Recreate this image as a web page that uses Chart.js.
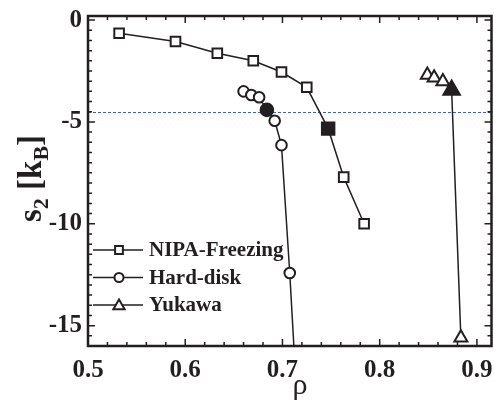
<!DOCTYPE html>
<html>
<head>
<meta charset="utf-8">
<script src="https://cdn.jsdelivr.net/npm/chart.js@4.4.1/dist/chart.umd.min.js"></script>
<style>
  html, body { margin: 0; padding: 0; background: #fff; overflow: hidden; }
  /* canvas is a little wider than the window: Chart.js keeps a point-size margin on the right */
  #wrap { width: 494px; height: 404px; overflow: hidden; }
</style>
</head>
<body>
<div id="wrap"><canvas id="chart" width="501" height="404"></canvas></div>
<script>
// data
const seriesNames = ['NIPA-Freezing', 'Hard-disk', 'Yukawa'];
const nipaRho = [0.532, 0.590, 0.633, 0.670, 0.699, 0.725, 0.747, 0.763, 0.784];
const nipaS2 = [-0.65, -1.05, -1.63, -2.0, -2.55, -3.3, -5.33, -7.71, -10.0];
const diskRho = [0.660, 0.668, 0.676, 0.684, 0.692, 0.699, 0.7075, 0.7135];
const diskS2 = [-3.5, -3.68, -3.79, -4.41, -4.94, -6.14, -12.42, -17.5];
const yukawaRho = [0.849, 0.856, 0.865, 0.874, 0.8835];
const yukawaS2 = [-2.7, -2.83, -3.02, -3.43, -15.6];
const xTicks = [0.5, 0.6, 0.7, 0.8, 0.9];
const yTicks = [0, -5, -10, -15];
const refLevel = -4.5;

const INK = '#231f20';
const SERIF = "'Liberation Serif', 'Times New Roman', serif";

const toPoints = (xs, ys) => xs.map((x, i) => ({ x: x, y: ys[i] }));

// open markers, with one filled marker per series
const makeSet = (label, xs, ys, style, r, rFilled, filledIndex, extra) => Object.assign({
    label: label,
    data: toPoints(xs, ys),
    showLine: true,
    borderColor: INK,
    borderWidth: 1.5,
    pointStyle: style,
    pointBorderWidth: 2,
    pointBorderColor: INK,
    pointRadius: ctx => ctx.dataIndex === filledIndex ? rFilled : r,
    pointBackgroundColor: ctx => ctx.dataIndex === filledIndex ? INK : '#fff',
    tension: 0
}, extra || {});

function drawMarker(ctx, style, x, y, r) {
    ctx.beginPath();
    if (style === 'rect') {
        const s = r * Math.SQRT1_2;
        ctx.rect(x - s, y - s, 2 * s, 2 * s);
    } else if (style === 'circle') {
        ctx.arc(x, y, r, 0, Math.PI * 2);
    } else {
        ctx.moveTo(x, y - r);
        ctx.lineTo(x + r * Math.sin(Math.PI / 3), y + r * 0.5);
        ctx.lineTo(x - r * Math.sin(Math.PI / 3), y + r * 0.5);
        ctx.closePath();
    }
    ctx.fillStyle = '#fff';
    ctx.fill();
    ctx.lineWidth = 2;
    ctx.strokeStyle = INK;
    ctx.stroke();
}

const framePlugin = {
    id: 'frame',
    beforeDatasetsDraw(chart) {
        const { ctx, chartArea: a, scales: { y } } = chart;
        // dashed reference level
        const py = Math.round(y.getPixelForValue(refLevel)) + 0.5;
        ctx.save();
        ctx.strokeStyle = '#3a5fd0';
        ctx.lineWidth = 1;
        ctx.setLineDash([3, 2]);
        ctx.beginPath();
        ctx.moveTo(a.left, py);
        ctx.lineTo(a.right, py);
        ctx.stroke();
        ctx.restore();
    },
    afterDraw(chart) {
        const { ctx, chartArea: a, scales: { x, y } } = chart;
        ctx.save();
        ctx.strokeStyle = INK;
        ctx.lineWidth = 1.5;
        // minor + major ticks, pointing inward on all four sides
        for (let v = 0.5; v <= x.max + 1e-9; v += 0.02) {
            const px = x.getPixelForValue(v);
            const major = Math.abs(v * 10 - Math.round(v * 10)) < 1e-6;
            const len = major ? 7 : 4;
            ctx.beginPath();
            ctx.moveTo(px, a.bottom); ctx.lineTo(px, a.bottom - len);
            ctx.moveTo(px, a.top); ctx.lineTo(px, a.top + len);
            ctx.stroke();
        }
        for (let v = 0; v >= y.min; v -= 0.5) {
            const py = y.getPixelForValue(v);
            const major = Math.abs(v % 5) < 1e-6;
            const len = major ? 7 : 4;
            ctx.beginPath();
            ctx.moveTo(a.left, py); ctx.lineTo(a.left + len, py);
            ctx.moveTo(a.right, py); ctx.lineTo(a.right - len, py);
            ctx.stroke();
        }
        ctx.lineWidth = 2.5;
        ctx.strokeRect(a.left, a.top, a.right - a.left, a.bottom - a.top);

        // legend: line - marker - line
        const styles = ['rect', 'circle', 'triangle'];
        const radii = [5.5, 4.5, 6.5];
        ctx.font = 'bold 21px ' + SERIF;
        ctx.textBaseline = 'middle';
        ctx.fillStyle = INK;
        seriesNames.forEach((name, i) => {
            const ly = 250 + i * 27.5;
            ctx.lineWidth = 1.5;
            ctx.beginPath();
            ctx.moveTo(93, ly); ctx.lineTo(143, ly);
            ctx.stroke();
            drawMarker(ctx, styles[i], 119, ly + (i === 2 ? 1 : 0), radii[i]);
            ctx.fillStyle = INK;
            ctx.fillText(name, 149, ly + 1);
        });

        // y title: s_2 [k_B], rotated
        ctx.translate(41, 222);
        ctx.rotate(-Math.PI / 2);
        ctx.textBaseline = 'alphabetic';
        const parts = [['s', 33, 0], ['2', 22, 7], [' [k', 33, 0], ['B', 22, 7], [']', 33, 0]];
        let tx = 0;
        parts.forEach(([t, size, dy]) => {
            ctx.font = 'bold ' + size + 'px ' + SERIF;
            ctx.fillText(t, tx, dy);
            tx += ctx.measureText(t).width;
        });
        ctx.restore();

        // x title
        ctx.save();
        ctx.font = '30px ' + SERIF;
        ctx.fillStyle = INK;
        ctx.textAlign = 'center';
        ctx.textBaseline = 'alphabetic';
        ctx.fillText('\u03c1', 300, 394);
        ctx.restore();
    }
};

const tickFont = { family: SERIF, size: 25, weight: 'bold' };

new Chart(document.getElementById('chart'), {
    type: 'scatter',
    data: {
        datasets: [
            makeSet(seriesNames[0], nipaRho, nipaS2, 'rect', 6.8, 8.8, 6),
            makeSet(seriesNames[1], diskRho, diskS2, 'circle', 5.3, 6.3, 3,
                { clip: { left: 10, top: 10, right: 10, bottom: 0 } }),
            makeSet(seriesNames[2], yukawaRho, yukawaS2, 'triangle', 7.5, 9.5, 3)
        ]
    },
    options: {
        responsive: false,
        animation: false,
        layout: { padding: { top: 16, right: 0, left: 0, bottom: 0 } },
        plugins: { legend: { display: false }, tooltip: { enabled: false } },
        scales: {
            x: {
                type: 'linear',
                min: 0.5,
                max: 0.915,
                grid: { display: false, drawTicks: false },
                border: { display: false },
                afterBuildTicks: s => { s.ticks = xTicks.map(v => ({ value: v })); },
                afterFit: s => { s.height = 58; s.paddingLeft = 0; s.paddingRight = 0; },
                ticks: {
                    font: tickFont,
                    color: INK,
                    padding: 10,
                    maxRotation: 0,
                    callback: v => v.toFixed(1)
                }
            },
            y: {
                type: 'linear',
                min: -16,
                max: 0.2,
                grid: { display: false, drawTicks: false },
                border: { display: false },
                afterBuildTicks: s => { s.ticks = yTicks.map(v => ({ value: v })); },
                afterFit: s => { s.width = 88; s.paddingTop = 16; s.paddingBottom = 0; },
                ticks: {
                    font: tickFont,
                    color: INK,
                    padding: 6,
                    callback: v => String(v)
                }
            }
        }
    },
    plugins: [framePlugin]
});
</script>
</body>
</html>
